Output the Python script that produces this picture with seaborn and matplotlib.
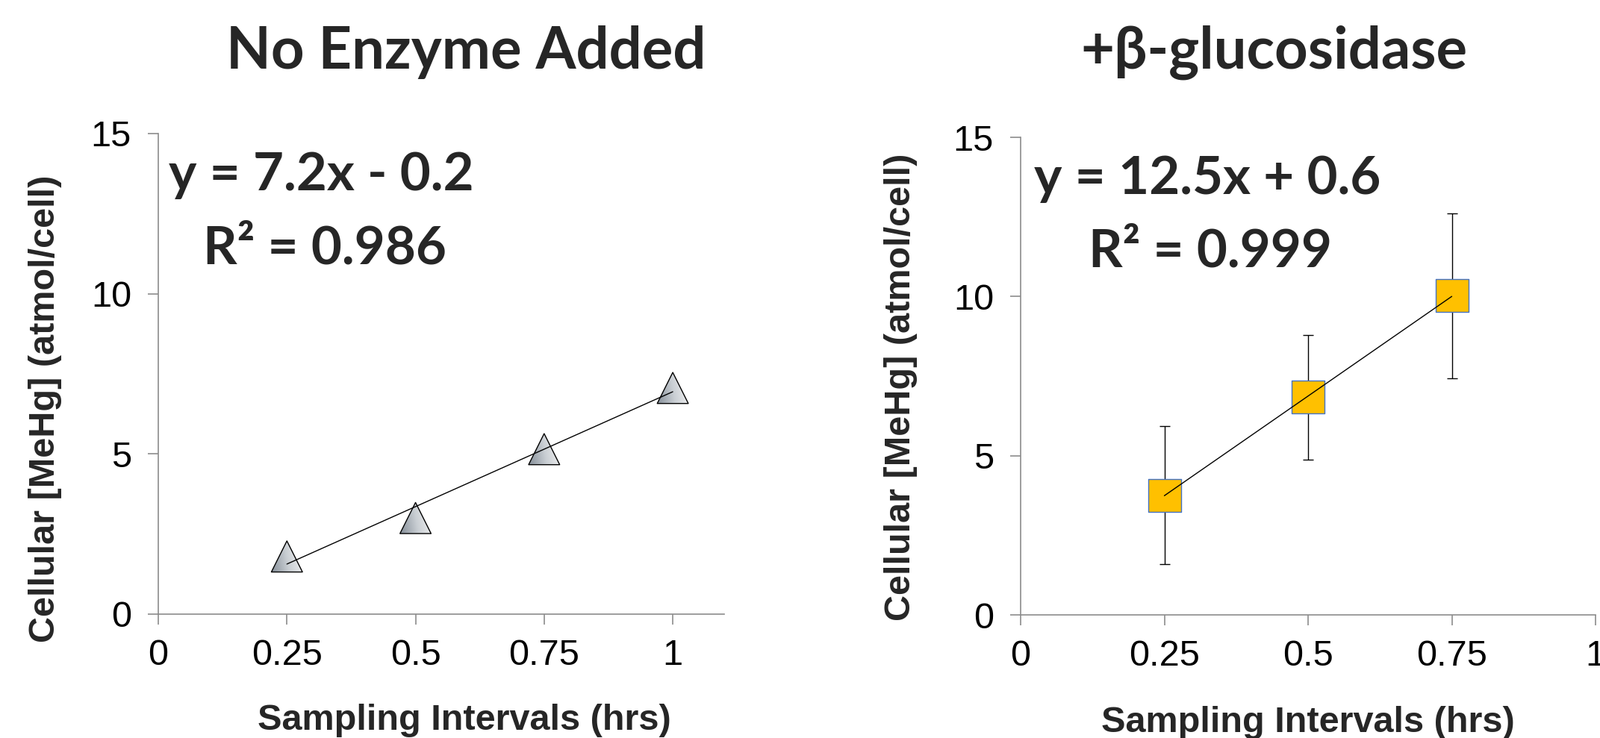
import numpy as np
import pandas as pd
import matplotlib
matplotlib.use("Agg")
import matplotlib.pyplot as plt
import seaborn as sns
from matplotlib.path import Path
from matplotlib.transforms import IdentityTransform
from matplotlib.colors import LinearSegmentedColormap

# Data
hours_no_enzyme = [0.25, 0.5, 0.75, 1.0]
mehg_no_enzyme = [1.8, 3.0, 5.15, 7.06]

hours_enzyme = [0.25, 0.5, 0.75]
mehg_enzyme = [3.76, 6.84, 10.02]
err_enzyme = [2.17, 1.96, 2.59]

titles = ["No Enzyme Added", "+β-glucosidase"]
eq_lines = [("y = 7.2x - 0.2", "R² = 0.986"), ("y = 12.5x + 0.6", "R² = 0.999")]
x_ticks = [0, 0.25, 0.5, 0.75, 1]
x_tick_labels = ["0", "0.25", "0.5", "0.75", "1"]
y_ticks = [0, 5, 10, 15]

df_a = pd.DataFrame({"hours": hours_no_enzyme, "mehg": mehg_no_enzyme})
df_b = pd.DataFrame({"hours": hours_enzyme, "mehg": mehg_enzyme, "err": err_enzyme})

sns.set_style("white")
plt.rcParams["font.family"] = ["Liberation Sans", "DejaVu Sans"]

W, H = 2143, 989
fig = plt.figure(figsize=(W / 100, H / 100), dpi=100)

# axes placed by pixel boxes
ax1 = fig.add_axes([212 / W, 1 - 823 / H, (970 - 212) / W, (823 - 179) / H])
ax2 = fig.add_axes([1367 / W, 1 - 824 / H, (2137 - 1367) / W, (824 - 184) / H])

for ax in (ax1, ax2):
    ax.set_ylim(0, 15)
ax1.set_xlim(0, 1.1)
ax2.set_xlim(0, 1.0)

# left panel: triangles (gradient fill) + trendline
tri_size = 30  # points
sns.scatterplot(data=df_a, x="hours", y="mehg", ax=ax1, marker="^", s=tri_size ** 2,
                color="#bcc2c8", edgecolor="none", linewidth=0, zorder=1)

grad_cmap = LinearSegmentedColormap.from_list("tri", ["#858e98", "#c9ced3", "#f4f4f4"])
gx, gy = np.meshgrid(np.linspace(0, 1, 64), np.linspace(0, 1, 64))
grad = np.clip(0.85 * gx + 0.15 * gy, 0, 1)
half = tri_size * fig.dpi / 72 / 2
inv = ax1.transData.inverted()
for hx, my in zip(hours_no_enzyme, mehg_no_enzyme):
    px, py = ax1.transData.transform((hx, my))
    tri = Path([(px - half, py - half), (px + half, py - half), (px, py + half),
                (px - half, py - half)], closed=True)
    (x0, y0), (x1, y1) = inv.transform([(px - half, py - half), (px + half, py + half)])
    im = ax1.imshow(grad, cmap=grad_cmap, extent=(x0, x1, y0, y1), origin="lower",
                    aspect="auto", zorder=1.5, interpolation="bilinear")
    im.set_clip_path(tri, transform=IdentityTransform())
ax1.scatter(hours_no_enzyme, mehg_no_enzyme, marker="^", s=tri_size ** 2,
            facecolors="none", edgecolors="black", linewidths=1.0, zorder=2)
sns.regplot(data=df_a, x="hours", y="mehg", ax=ax1, scatter=False, ci=None,
            truncate=True, line_kws={"color": "black", "lw": 1.0, "zorder": 3})

# right panel: squares with error bars + trendline
ax2.errorbar(df_b["hours"], df_b["mehg"], yerr=df_b["err"], fmt="none",
             ecolor="black", elinewidth=1.0, capsize=5, capthick=1.0, zorder=0.5)
sns.scatterplot(data=df_b, x="hours", y="mehg", ax=ax2, marker="s", s=961,
                color="#FFC000", edgecolor="#4472C4", linewidth=1.0, zorder=1)
sns.regplot(data=df_b, x="hours", y="mehg", ax=ax2, scatter=False, ci=None,
            truncate=True, line_kws={"color": "black", "lw": 1.0, "zorder": 3})

ax1.set_xlim(0, 1.1)
ax2.set_xlim(0, 1.0)

for ax, title, lx, lxy, ly, yx in [
    (ax1, titles[0], 0.541, -0.186, 0.427, -0.170),
    (ax2, titles[1], 0.50, -0.191, 0.477, -0.179),
]:
    ax.set_ylim(0, 15)
    ax.set_xticks(x_ticks)
    ax.set_xticklabels(x_tick_labels)
    ax.set_yticks(y_ticks)
    for side in ["top", "right"]:
        ax.spines[side].set_visible(False)
    for side in ["left", "bottom"]:
        ax.spines[side].set_color("#8c8c8c")
        ax.spines[side].set_linewidth(1.2)
    ax.tick_params(axis="both", direction="out", length=10, width=1.2,
                   color="#8c8c8c", labelsize=35, labelcolor="black")
    ax.tick_params(axis="x", pad=14, bottom=True)
    ax.tick_params(axis="y", pad=16, left=True)
    ax.set_xlabel("Sampling Intervals (hrs)", fontsize=35, fontweight="bold")
    ax.set_ylabel("Cellular [MeHg] (atmol/cell)", fontsize=35, fontweight="bold")
    ax.xaxis.set_label_coords(lx, lxy)
    ax.yaxis.set_label_coords(yx, ly)

bold_family = ["Lato", "DejaVu Sans"]
fig.text(624 / W, 1 - 92 / H, titles[0], ha="center", va="baseline",
         fontsize=56, fontweight="bold", family=bold_family)
fig.text(1706 / W, 1 - 92 / H, titles[1], ha="center", va="baseline",
         fontsize=56, fontweight="bold", family=bold_family)

fig.text(226 / W, 1 - 255 / H, eq_lines[0][0], ha="left", va="baseline",
         fontsize=51, fontweight="bold", family=bold_family)
fig.text(272 / W, 1 - 353 / H, eq_lines[0][1], ha="left", va="baseline",
         fontsize=51, fontweight="bold", family=bold_family)
fig.text(1385 / W, 1 - 260 / H, eq_lines[1][0], ha="left", va="baseline",
         fontsize=51, fontweight="bold", family=bold_family)
fig.text(1458 / W, 1 - 357 / H, eq_lines[1][1], ha="left", va="baseline",
         fontsize=51, fontweight="bold", family=bold_family)

fig.savefig("out.png", dpi=100)
